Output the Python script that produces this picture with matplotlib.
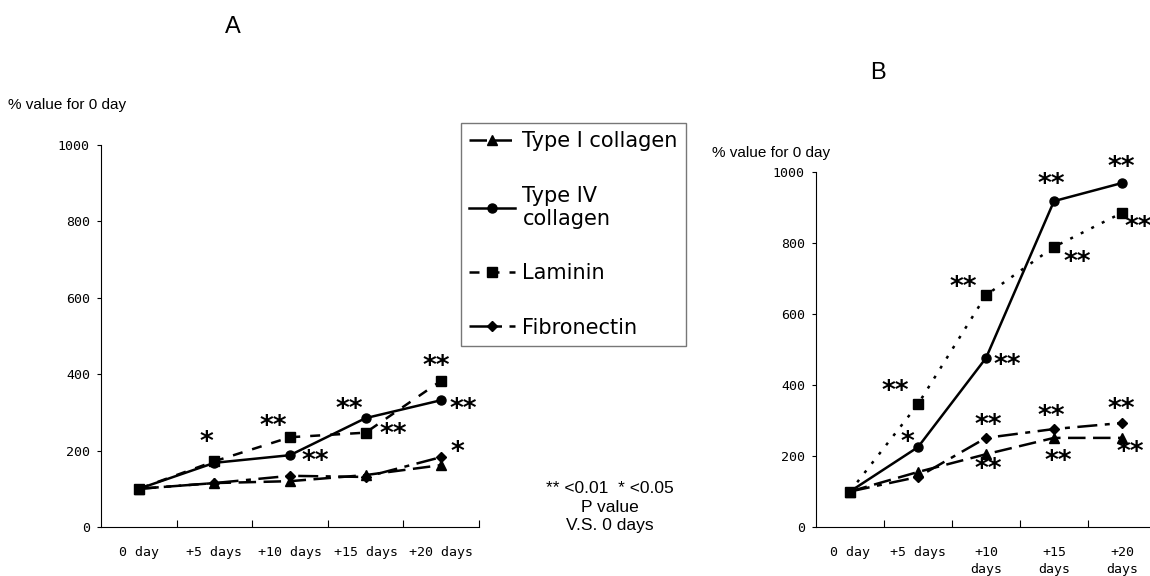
import matplotlib.pyplot as plt
from matplotlib.lines import Line2D
import numpy as np

days = ["0 day", "+5 days", "+10 days", "+15 days", "+20 days"]
days_b = ["0 day", "+5 days", "+10\ndays", "+15\ndays", "+20\ndays"]

# panel A values (% of day 0)
a_col1 = [100, 115, 120, 136, 162]
a_col4 = [100, 168, 188, 285, 332]
a_lam = [100, 172, 235, 247, 383]
a_fib = [100, 115, 134, 131, 183]

# panel B values
b_col1 = [100, 155, 205, 251, 251]
b_col4 = [100, 225, 476, 918, 969]
b_lam = [100, 346, 653, 789, 885]
b_fib = [100, 141, 251, 276, 293]

# significance marks: (x position, y value, text)
a_marks = [(1.40, 220, "*"), (2.28, 262, "**"), (2.84, 170, "**"),
           (3.29, 306, "**"), (3.86, 240, "**"), (4.44, 418, "**"),
           (4.79, 306, "**"), (4.71, 193, "*")]
b_marks = [(1.16, 380, "**"), (1.34, 237, "*"), (2.16, 673, "**"),
           (2.81, 453, "**"), (2.54, 284, "**"), (2.54, 161, "**"),
           (3.46, 963, "**"), (3.84, 744, "**"), (3.46, 310, "**"),
           (3.57, 183, "**"), (4.49, 1011, "**"), (4.74, 842, "**"),
           (4.49, 330, "**"), (4.62, 208, "**")]

names = ["Type I collagen", "Type IV\ncollagen", "Laminin", "Fibronectin"]

mono = "DejaVu Sans Mono"
x = np.arange(len(days)) + 0.5

fig = plt.figure(figsize=(11.5, 5.76), dpi=100)
axA = fig.add_axes([101/1150, 49/576, 378/1150, 382/576])
axB = fig.add_axes([816/1150, 49/576, 340/1150, 355/576])


def style_axis(ax, labels):
    ax.set_xlim(0, 5)
    ax.set_ylim(0, 1000)
    for s in ["top", "right"]:
        ax.spines[s].set_visible(False)
    ax.spines["left"].set_linewidth(0.8)
    ax.spines["bottom"].set_linewidth(0.8)
    ax.set_xticks(range(1, 6))
    ax.set_xticklabels([])
    ax.tick_params(axis="x", which="major", direction="in", length=5, width=0.8)
    ax.set_xticks(x, minor=True)
    ax.set_xticklabels(labels, minor=True, fontfamily=mono, fontsize=9.5,
                       linespacing=1.35)
    ax.tick_params(axis="x", which="minor", length=0, pad=14)
    ax.set_yticks(range(0, 1001, 200))
    ax.tick_params(axis="y", direction="out", length=3, width=0.8, pad=5)
    for t in ax.get_yticklabels():
        t.set_fontfamily(mono)
        t.set_fontsize(9.5)


def draw(ax, c1, c4, lam, fib, lam_style, marks):
    ax.plot(x, c1, color="black", lw=1.8, ls=(0, (7, 3)), marker="^", ms=7)
    ax.plot(x, c4, color="black", lw=1.8, ls="-", marker="o", ms=6.5)
    ax.plot(x, lam, color="black", lw=1.8, ls=lam_style, marker="s", ms=7)
    ax.plot(x, fib, color="black", lw=1.8, ls=(0, (8, 3, 2, 3)), marker="D", ms=5)
    for mx, my, txt in marks:
        ax.text(mx, my, txt, fontsize=19, fontweight="bold", ha="center",
                va="center", fontfamily="DejaVu Sans", clip_on=False)


style_axis(axA, days)
style_axis(axB, days_b)
draw(axA, a_col1, a_col4, a_lam, a_fib, (0, (4, 4)), a_marks)
draw(axB, b_col1, b_col4, b_lam, b_fib, (0, (1.2, 3.5)), b_marks)

fig.text(233/1150, 1 - 27/576, "A", fontsize=17, ha="center", va="center",
         fontfamily="Liberation Sans")
fig.text(878/1150, 1 - 73/576, "B", fontsize=17, ha="center", va="center",
         fontfamily="Liberation Sans")
fig.text(8/1150, 1 - 105/576, "% value for 0 day", fontsize=11,
         ha="left", va="center", fontfamily="Liberation Sans")
fig.text(712/1150, 1 - 153/576, "% value for 0 day", fontsize=11,
         ha="left", va="center", fontfamily="Liberation Sans")
fig.text(610/1150, 1 - 507/576, "** <0.01  * <0.05\nP value\nV.S. 0 days",
         fontsize=12.5, ha="center", va="center", linespacing=1.3,
         fontfamily="Liberation Sans")

handles = [
    Line2D([], [], color="black", lw=1.8, ls=(0, (7, 3)), marker="^", ms=7),
    Line2D([], [], color="black", lw=1.8, ls="-", marker="o", ms=6.5),
    Line2D([], [], color="black", lw=1.8, ls=(0, (4, 4)), marker="s", ms=7),
    Line2D([], [], color="black", lw=1.8, ls=(0, (8, 3, 2, 3)), marker="D", ms=5),
]
leg = fig.legend(handles, names, loc="upper left",
                 bbox_to_anchor=(461/1150, 1 - 123/576),
                 prop={"family": "DejaVu Sans", "size": 15},
                 frameon=True, fancybox=False, handlelength=2.2,
                 labelspacing=1.65, borderpad=0.4, handletextpad=0.35,
                 borderaxespad=0)
leg.get_frame().set_edgecolor("#555555")
leg.get_frame().set_linewidth(1.0)

fig.savefig("out.png", dpi=100)
